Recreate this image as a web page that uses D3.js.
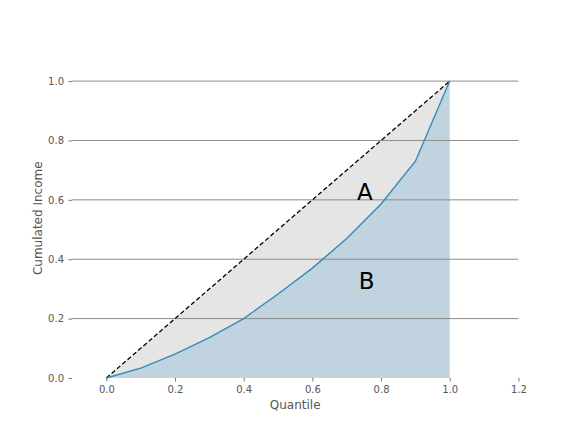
<!DOCTYPE html>
<html>
<head>
<meta charset="utf-8">
<script src="https://cdn.jsdelivr.net/npm/d3@7"></script>
<style>
  html, body { margin: 0; padding: 0; background: #fff; }
  svg { display: block; }
  text { font-family: "DejaVu Sans", sans-serif; }
</style>
</head>
<body>
<svg id="chart" width="576" height="432"></svg>
<script>
// Data
const quantiles = [0, 0.1, 0.2, 0.3, 0.4, 0.5, 0.6, 0.7, 0.8, 0.9, 1.0];
const cumIncome = [0, 0.033, 0.08, 0.136, 0.2, 0.283, 0.37, 0.47, 0.586, 0.73, 1.0];
const equality = [0, 1];
const xTicks = [0.0, 0.2, 0.4, 0.6, 0.8, 1.0, 1.2];
const yTicks = [0.0, 0.2, 0.4, 0.6, 0.8, 1.0];
const labels = [{t: "A", x: 0.73, y: 0.6}, {t: "B", x: 0.735, y: 0.3}];

const svg = d3.select("#chart");
const plotL = 72, plotR = 518.4, plotT = 52, plotB = 384.5;
const x = d3.scaleLinear().domain([-0.1, 1.2]).range([plotL, plotR]);
const y = d3.scaleLinear().domain([-0.022, 1.098]).range([plotB, plotT]);

const pts = quantiles.map((q, i) => ({q, v: cumIncome[i]}));

// gray area between equality line and Lorenz curve
svg.append("path")
  .datum(pts)
  .attr("fill", "#e5e5e5")
  .attr("d", d3.area().x(d => x(d.q)).y0(d => y(d.q)).y1(d => y(d.v)));

// blue area under curve
svg.append("path")
  .datum(pts)
  .attr("fill", "#c1d3de")
  .attr("d", d3.area().x(d => x(d.q)).y0(y(0)).y1(d => y(d.v)));

// grid lines
svg.append("g").selectAll("line")
  .data(yTicks.filter(t => t > 0))
  .join("line")
  .attr("x1", plotL).attr("x2", plotR)
  .attr("y1", d => y(d)).attr("y2", d => y(d))
  .attr("stroke", "#8c8c8c").attr("stroke-width", 1);

// equality line
svg.append("path")
  .datum(equality)
  .attr("fill", "none")
  .attr("stroke", "#000")
  .attr("stroke-width", 1.3)
  .attr("stroke-dasharray", "4.5,2.5")
  .attr("d", d3.line().x(d => x(d)).y(d => y(d)));

// Lorenz curve
svg.append("path")
  .datum(pts)
  .attr("fill", "none")
  .attr("stroke", "#348ABD")
  .attr("stroke-width", 1.4)
  .attr("d", d3.line().x(d => x(d.q)).y(d => y(d.v)));

// axes
const xAxis = d3.axisBottom(x).tickValues(xTicks).tickFormat(d3.format(".1f")).tickSize(3.5).tickPadding(4);
const gx = svg.append("g").attr("transform", `translate(0,${y(0)})`).call(xAxis);
const yAxis = d3.axisLeft(y).tickValues(yTicks).tickFormat(d3.format(".1f")).tickSize(3.5).tickPadding(4.5);
const gy = svg.append("g").attr("transform", `translate(${plotL},0)`).call(yAxis);
[gx, gy].forEach(g => {
  g.select(".domain").remove();
  g.selectAll(".tick line").attr("stroke", "#555").attr("stroke-width", 0.8);
  g.selectAll(".tick text").attr("fill", "#555").attr("font-size", 10)
    .attr("font-family", "DejaVu Sans, sans-serif");
});

// axis labels
svg.append("text")
  .attr("x", (plotL + plotR) / 2).attr("y", 409)
  .attr("text-anchor", "middle").attr("fill", "#555").attr("font-size", 12)
  .text("Quantile");
svg.append("text")
  .attr("transform", `translate(42,${(plotT + plotB) / 2}) rotate(-90)`)
  .attr("text-anchor", "middle").attr("fill", "#555").attr("font-size", 12)
  .text("Cumulated Income");

// region labels
svg.append("g").selectAll("text")
  .data(labels)
  .join("text")
  .attr("x", d => x(d.x)).attr("y", d => y(d.y))
  .attr("font-size", 23).attr("fill", "#000")
  .text(d => d.t);
</script>
</body>
</html>
